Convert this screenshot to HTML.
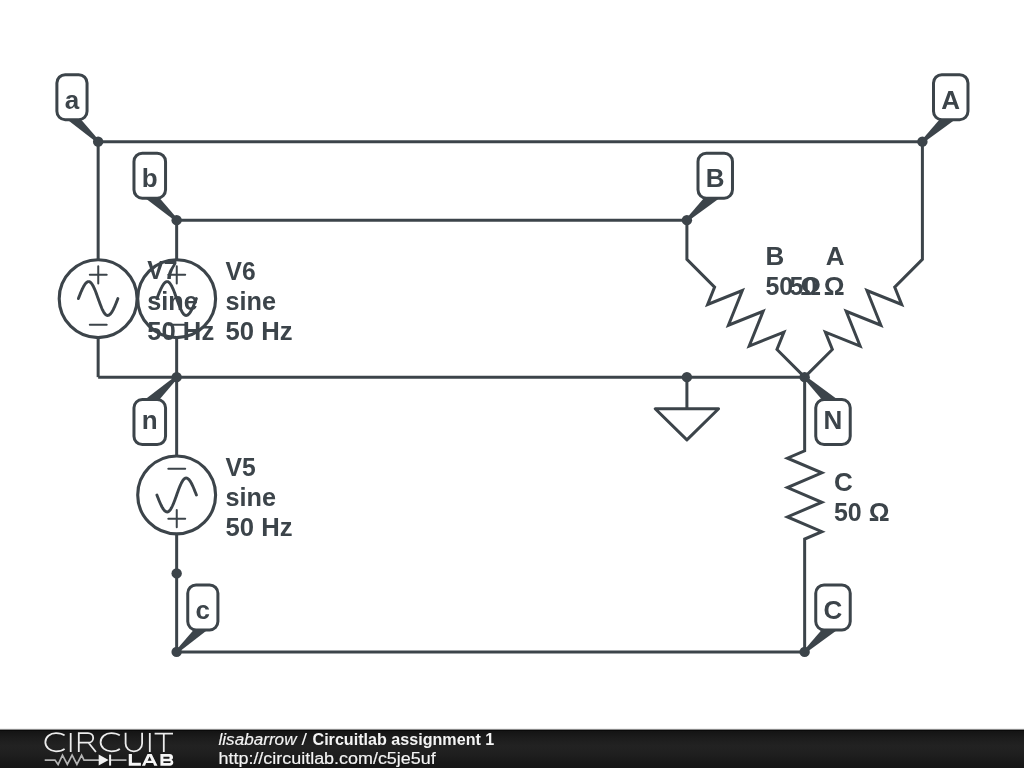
<!DOCTYPE html>
<html><head><meta charset="utf-8"><title>Circuitlab assignment 1</title>
<style>
html,body{margin:0;padding:0;background:#fff;}
body{width:1024px;height:768px;overflow:hidden;position:relative;font-family:"Liberation Sans",sans-serif;}
svg{will-change:transform;}
svg.sch{position:absolute;left:0;top:0;}
.bar{position:absolute;left:0;top:728px;width:1024px;height:40px;
background:linear-gradient(#f0f0f0 0px,#f0f0f0 1px,#8a8a8a 1px,#8a8a8a 2px,#0a0a0a 2px,#0a0a0a 3px,#141414 3px,#1c1c1c 10px,#222 18px,#1f1f1f 26px,#191919 34px,#161616 40px);}
</style></head><body>
<svg class="sch" width="1024" height="768" viewBox="0 0 1024 768">
<g fill="none" stroke="#3c444a" stroke-width="3.0" stroke-linejoin="miter" stroke-linecap="butt">
<polyline points="98.15,141.65 922.4,141.65"/>
<polyline points="176.65,220.15 686.9,220.15"/>
<polyline points="98.15,377.15 804.65,377.15"/>
<polyline points="176.65,651.9 804.65,651.9"/>
<polyline points="98.15,141.65 98.15,259.7"/>
<polyline points="98.15,337.6 98.15,377.15"/>
<polyline points="176.65,220.15 176.65,259.7"/>
<polyline points="176.65,337.6 176.65,377.15"/>
<polyline points="176.65,377.15 176.65,455.95"/>
<polyline points="176.65,533.85 176.65,651.9"/>
<polyline points="686.9,377.15 686.9,408.7"/>
<polyline points="804.65,377.15 804.65,450.8 787.45,458.15 821.85,472.85 787.45,487.55 821.85,502.25 787.45,516.95 821.85,531.65 804.65,539 804.65,651.9"/>
<polyline points="686.9,220.15 686.9,259.4 714.59,287.09 707.63,304.45 742.35,290.52 728.42,325.24 763.13,311.31 749.2,346.03 783.92,332.1 776.96,349.46 804.65,377.15"/>
<polyline points="922.4,141.65 922.4,259.4 894.71,287.09 901.67,304.45 866.95,290.52 880.88,325.24 846.17,311.31 860.1,346.03 825.38,332.1 832.34,349.46 804.65,377.15"/>
</g>
<polygon points="655.2,408.7 718.6,408.7 686.9,439.9" fill="none" stroke="#3c444a" stroke-width="3.0" stroke-linejoin="round"/>
<g transform="translate(98.15,298.65) rotate(0)"><circle r="38.95" fill="none" stroke="#3c444a" stroke-width="3.1"/><path d="M-8.35,-23.8H8.55M0.1,-32.35V-15.1M-8.35,26.1H8.55" fill="none" stroke="#3c444a" stroke-width="2.0" stroke-linecap="round"/><polyline points="-19.75,-0.1 -19.11,-1.76 -18.46,-3.41 -17.82,-5.02 -17.18,-6.59 -16.53,-8.09 -15.89,-9.52 -15.24,-10.85 -14.6,-12.09 -13.96,-13.2 -13.31,-14.19 -12.67,-15.05 -12.02,-15.76 -11.38,-16.32 -10.74,-16.72 -10.09,-16.97 -9.45,-17.05 -8.86,-16.97 -8.27,-16.72 -7.68,-16.32 -7.09,-15.76 -6.5,-15.05 -5.91,-14.19 -5.32,-13.2 -4.72,-12.09 -4.13,-10.85 -3.54,-9.52 -2.95,-8.09 -2.36,-6.59 -1.77,-5.02 -1.18,-3.41 -0.59,-1.76 0,-0.1 0.59,1.56 1.18,3.21 1.77,4.82 2.36,6.39 2.95,7.89 3.54,9.32 4.13,10.65 4.72,11.89 5.32,13 5.91,13.99 6.5,14.85 7.09,15.56 7.68,16.12 8.27,16.52 8.86,16.77 9.45,16.85 10.09,16.77 10.74,16.52 11.38,16.12 12.03,15.56 12.67,14.85 13.31,13.99 13.96,13 14.6,11.89 15.24,10.65 15.89,9.32 16.53,7.89 17.17,6.39 17.82,4.82 18.46,3.21 19.11,1.56 19.75,-0.1" fill="none" stroke="#3c444a" stroke-width="2.9" stroke-linecap="round" stroke-linejoin="round"/></g>
<g transform="translate(176.65,298.65) rotate(0)"><circle r="38.95" fill="none" stroke="#3c444a" stroke-width="3.1"/><path d="M-8.35,-23.8H8.55M0.1,-32.35V-15.1M-8.35,26.1H8.55" fill="none" stroke="#3c444a" stroke-width="2.0" stroke-linecap="round"/><polyline points="-19.75,-0.1 -19.11,-1.76 -18.46,-3.41 -17.82,-5.02 -17.18,-6.59 -16.53,-8.09 -15.89,-9.52 -15.24,-10.85 -14.6,-12.09 -13.96,-13.2 -13.31,-14.19 -12.67,-15.05 -12.02,-15.76 -11.38,-16.32 -10.74,-16.72 -10.09,-16.97 -9.45,-17.05 -8.86,-16.97 -8.27,-16.72 -7.68,-16.32 -7.09,-15.76 -6.5,-15.05 -5.91,-14.19 -5.32,-13.2 -4.72,-12.09 -4.13,-10.85 -3.54,-9.52 -2.95,-8.09 -2.36,-6.59 -1.77,-5.02 -1.18,-3.41 -0.59,-1.76 0,-0.1 0.59,1.56 1.18,3.21 1.77,4.82 2.36,6.39 2.95,7.89 3.54,9.32 4.13,10.65 4.72,11.89 5.32,13 5.91,13.99 6.5,14.85 7.09,15.56 7.68,16.12 8.27,16.52 8.86,16.77 9.45,16.85 10.09,16.77 10.74,16.52 11.38,16.12 12.03,15.56 12.67,14.85 13.31,13.99 13.96,13 14.6,11.89 15.24,10.65 15.89,9.32 16.53,7.89 17.17,6.39 17.82,4.82 18.46,3.21 19.11,1.56 19.75,-0.1" fill="none" stroke="#3c444a" stroke-width="2.9" stroke-linecap="round" stroke-linejoin="round"/></g>
<g transform="translate(176.65,494.9) scale(1,-1)"><circle r="38.95" fill="none" stroke="#3c444a" stroke-width="3.1"/><path d="M-8.35,-23.8H8.55M0.1,-32.35V-15.1M-8.35,26.1H8.55" fill="none" stroke="#3c444a" stroke-width="2.0" stroke-linecap="round"/><polyline points="-19.75,-0.1 -19.11,-1.76 -18.46,-3.41 -17.82,-5.02 -17.18,-6.59 -16.53,-8.09 -15.89,-9.52 -15.24,-10.85 -14.6,-12.09 -13.96,-13.2 -13.31,-14.19 -12.67,-15.05 -12.02,-15.76 -11.38,-16.32 -10.74,-16.72 -10.09,-16.97 -9.45,-17.05 -8.86,-16.97 -8.27,-16.72 -7.68,-16.32 -7.09,-15.76 -6.5,-15.05 -5.91,-14.19 -5.32,-13.2 -4.72,-12.09 -4.13,-10.85 -3.54,-9.52 -2.95,-8.09 -2.36,-6.59 -1.77,-5.02 -1.18,-3.41 -0.59,-1.76 0,-0.1 0.59,1.56 1.18,3.21 1.77,4.82 2.36,6.39 2.95,7.89 3.54,9.32 4.13,10.65 4.72,11.89 5.32,13 5.91,13.99 6.5,14.85 7.09,15.56 7.68,16.12 8.27,16.52 8.86,16.77 9.45,16.85 10.09,16.77 10.74,16.52 11.38,16.12 12.03,15.56 12.67,14.85 13.31,13.99 13.96,13 14.6,11.89 15.24,10.65 15.89,9.32 16.53,7.89 17.17,6.39 17.82,4.82 18.46,3.21 19.11,1.56 19.75,-0.1" fill="none" stroke="#3c444a" stroke-width="2.9" stroke-linecap="round" stroke-linejoin="round"/></g>
<circle cx="98.15" cy="141.65" r="5.2" fill="#3c444a"/>
<circle cx="922.4" cy="141.65" r="5.2" fill="#3c444a"/>
<circle cx="176.65" cy="220.15" r="5.2" fill="#3c444a"/>
<circle cx="686.9" cy="220.15" r="5.2" fill="#3c444a"/>
<circle cx="176.65" cy="377.15" r="5.2" fill="#3c444a"/>
<circle cx="686.9" cy="377.15" r="5.2" fill="#3c444a"/>
<circle cx="804.65" cy="377.15" r="5.2" fill="#3c444a"/>
<circle cx="176.65" cy="573.4" r="5.2" fill="#3c444a"/>
<circle cx="176.65" cy="651.9" r="5.2" fill="#3c444a"/>
<circle cx="804.65" cy="651.9" r="5.2" fill="#3c444a"/>
<g font-family="Liberation Sans, sans-serif" font-weight="bold" font-size="26" fill="#3c444a">
<polygon points="97.13,142.75 65.52,118.15 79.93,118.15 99.17,140.55" fill="#3c444a"/><rect x="56.89" y="74.65" width="30.16" height="45" rx="8.3" ry="8.3" fill="#fff" stroke="#3c444a" stroke-width="3.0"/><text x="71.97" y="108.65" text-anchor="middle">a</text>
<polygon points="923.4,142.77 956.97,118.15 940.62,118.15 921.4,140.53" fill="#3c444a"/><rect x="933.5" y="74.65" width="34.48" height="45" rx="8.3" ry="8.3" fill="#fff" stroke="#3c444a" stroke-width="3.0"/><text x="950.74" y="108.65" text-anchor="middle">A</text>
<polygon points="175.64,221.26 143.38,196.65 158.43,196.65 177.66,219.04" fill="#3c444a"/><rect x="133.97" y="153.15" width="31.58" height="45" rx="8.3" ry="8.3" fill="#fff" stroke="#3c444a" stroke-width="3.0"/><text x="149.76" y="187.15" text-anchor="middle">b</text>
<polygon points="687.9,221.27 721.47,196.65 705.12,196.65 685.9,219.03" fill="#3c444a"/><rect x="698" y="153.15" width="34.48" height="45" rx="8.3" ry="8.3" fill="#fff" stroke="#3c444a" stroke-width="3.0"/><text x="715.24" y="187.15" text-anchor="middle">B</text>
<polygon points="175.64,376.04 143.38,400.65 158.43,400.65 177.66,378.26" fill="#3c444a"/><rect x="133.97" y="399.55" width="31.58" height="45" rx="8.3" ry="8.3" fill="#fff" stroke="#3c444a" stroke-width="3.0"/><text x="149.76" y="428.85" text-anchor="middle">n</text>
<polygon points="805.65,376.03 839.22,400.65 822.87,400.65 803.65,378.27" fill="#3c444a"/><rect x="815.75" y="399.55" width="34.48" height="45" rx="8.3" ry="8.3" fill="#fff" stroke="#3c444a" stroke-width="3.0"/><text x="832.99" y="428.85" text-anchor="middle">N</text>
<polygon points="177.67,653 209.28,628.4 194.87,628.4 175.63,650.8" fill="#3c444a"/><rect x="187.75" y="584.9" width="30.16" height="45" rx="8.3" ry="8.3" fill="#fff" stroke="#3c444a" stroke-width="3.0"/><text x="202.83" y="618.9" text-anchor="middle">c</text>
<polygon points="805.65,653.02 839.22,628.4 822.87,628.4 803.65,650.78" fill="#3c444a"/><rect x="815.75" y="584.9" width="34.48" height="45" rx="8.3" ry="8.3" fill="#fff" stroke="#3c444a" stroke-width="3.0"/><text x="832.99" y="618.9" text-anchor="middle">C</text>
<text transform="translate(147.2,279.2) scale(0.95,1)" text-anchor="start">V7</text><text transform="translate(147.2,309.5) scale(0.972,1)" text-anchor="start">sine</text><text transform="translate(147.2,339.8) scale(0.987,1)" text-anchor="start">50 Hz</text>
<text transform="translate(225.5,279.5) scale(0.945,1)" text-anchor="start">V6</text><text transform="translate(225.5,309.8) scale(0.972,1)" text-anchor="start">sine</text><text transform="translate(225.5,340.1) scale(0.987,1)" text-anchor="start">50 Hz</text>
<text transform="translate(225.5,475.5) scale(0.95,1)" text-anchor="start">V5</text><text transform="translate(225.5,505.8) scale(0.972,1)" text-anchor="start">sine</text><text transform="translate(225.5,536.1) scale(0.987,1)" text-anchor="start">50 Hz</text>
<text x="834" y="490.8" text-anchor="start">C</text><text transform="translate(834,520.8) scale(0.96,1)">50</text><text x="868.85" y="520.8">&#937;</text>
<text x="765.5" y="264.9" text-anchor="start">B</text><text transform="translate(765.5,294.9) scale(0.96,1)">50</text><text x="800.35" y="294.9">&#937;</text>
<text x="844.5" y="264.9" text-anchor="end">A</text><text transform="translate(789.4,294.9) scale(0.96,1)">50</text><text x="823.75" y="294.9">&#937;</text>
</g>
</svg>
<div class="bar"></div>
<svg style="position:absolute;left:0;top:729px" width="200" height="39" viewBox="0 729 200 39">
<g fill="none" stroke="#ececec" stroke-width="1.8">
<path d="M64.6,735.4 C62.5,733.8 59.5,733.06 56,733.06 C50,733.06 45.35,737.2 45.35,742.2 C45.35,747.2 50,751.3 56,751.3 C59.5,751.3 62.5,750.6 64.6,748.9"/>
<path d="M70.7,733 V752"/>
<path d="M78.8,752 V733.1 H88 C91,733.1 93.2,735.3 93.2,737.9 C93.2,740.5 91,742.7 88,742.7 H78.8 M88.5,742.7 L95.9,752"/>
<path transform="translate(55.25,0)" d="M64.6,735.4 C62.5,733.8 59.5,733.06 56,733.06 C50,733.06 45.35,737.2 45.35,742.2 C45.35,747.2 50,751.3 56,751.3 C59.5,751.3 62.5,750.6 64.6,748.9"/>
<path d="M125.6,732.8 V743.5 C125.6,748.2 129.3,751.4 133.85,751.4 C138.4,751.4 142.1,748.2 142.1,743.5 V732.8"/>
<path d="M149.8,733 V752"/>
<path d="M154.6,733.6 H173 M163.8,733.6 V752"/>
</g>
<g fill="none" stroke="#b4b4b4" stroke-width="1.7" stroke-linejoin="miter">
<polyline points="44.7,760.1 55,760.1 58.1,764.5 62.5,755.2 67.3,764.5 72.1,755.2 76.9,764.5 81.6,755.2 84,760.1 99,760.1"/>
<line x1="110" y1="760.1" x2="126.5" y2="760.1"/>
</g>
<polygon points="98.7,754.6 108.6,760.1 98.7,765.6" fill="#f0f0f0"/>
<rect x="109.1" y="754.6" width="2" height="11" fill="#f0f0f0"/>
<path fill="#f6f6f6" fill-rule="evenodd" d="M128.75,754 H131.95 V762.7 H140.9 V765.8 H128.75 Z
M141.9,765.8 L147.5,754 H151.7 L157.5,765.8 H154.2 L153.1,762.9 H146.1 L145.1,765.8 Z M147.6,760.8 H151.6 L149.6,756.5 Z
M160.4,754 H169.5 C172,754 173,755.5 173,757.2 C173,758.5 172.3,759.4 171.4,759.8 C172.6,760.3 173.3,761.3 173.3,762.6 C173.3,764.6 172,765.8 169.8,765.8 H160.4 Z
M163.4,756.8 H168.9 C169.4,756.8 169.6,757.3 169.6,757.8 C169.6,758.3 169.4,758.7 168.9,758.7 H163.4 Z
M163.4,761.3 H169.8 C170.4,761.3 170.8,761.7 170.8,762.1 C170.8,762.6 170.4,762.9 169.8,762.9 H163.4 Z"/>

</svg>
<svg style="position:absolute;left:0;top:0" width="1024" height="768" viewBox="0 0 1024 768">
<g font-family="Liberation Sans, sans-serif" fill="#f4f4f4" font-size="16">
<text x="218.5" y="744.9" font-style="italic" stroke="#f4f4f4" stroke-width="0.15" textLength="78" lengthAdjust="spacingAndGlyphs">lisabarrow</text>
<text x="301.5" y="744.9" textLength="5.5" lengthAdjust="spacingAndGlyphs">/</text>
<text x="312.5" y="744.9" font-weight="bold" textLength="181.8" lengthAdjust="spacingAndGlyphs">Circuitlab assignment 1</text>
<text x="218.5" y="763.9" stroke="#f4f4f4" stroke-width="0.15" textLength="217.2" lengthAdjust="spacingAndGlyphs">http://circuitlab.com/c5je5uf</text>
</g></svg>
</body></html>
